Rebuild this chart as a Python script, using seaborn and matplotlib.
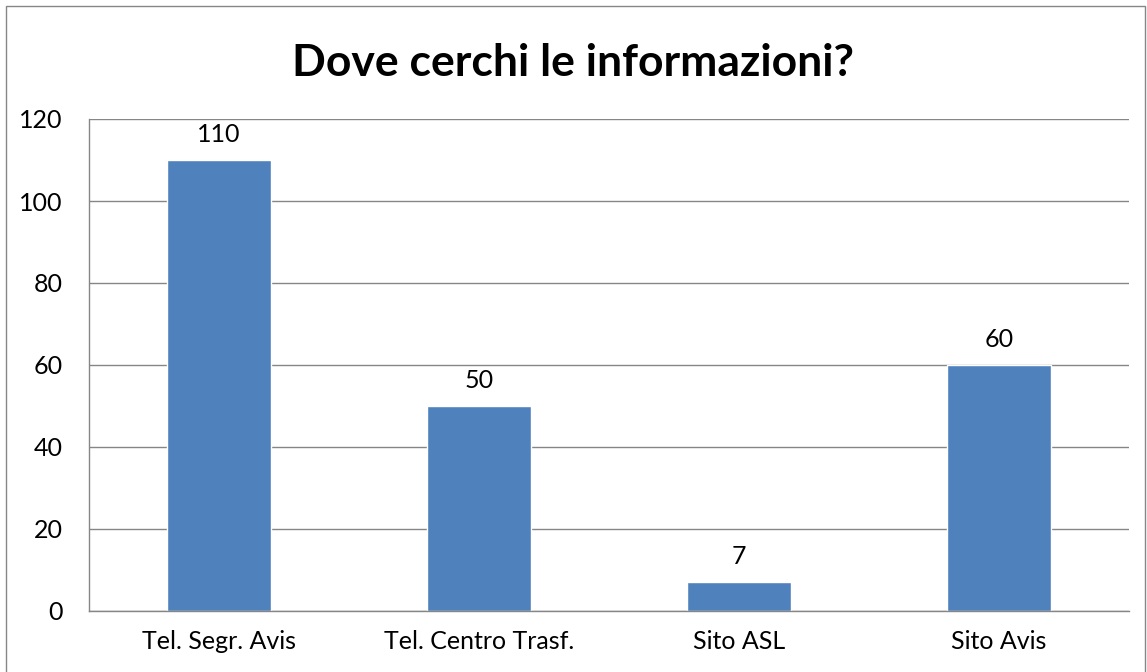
import seaborn as sns
import matplotlib.pyplot as plt
import pandas as pd
import numpy as np
from matplotlib.patches import Rectangle

categories = ['Tel. Segr. Avis', 'Tel. Centro Trasf.', 'Sito ASL', 'Sito Avis']
values = [110, 50, 7, 60]
title = 'Dove cerchi le informazioni?'

df = pd.DataFrame({'fonte': categories, 'risposte': values})

sns.set_style('white')
plt.rcParams['font.family'] = ['Lato', 'DejaVu Sans']
plt.rcParams['text.color'] = 'black'

fig = plt.figure(figsize=(11.47, 6.72), dpi=100)
ax = fig.add_axes([89 / 1147, 1 - 611 / 672, 1040 / 1147, 492 / 672])

sns.barplot(data=df, x='fonte', y='risposte', color='#4F81BD', saturation=1,
            width=0.4, ax=ax)
ax.bar_label(ax.containers[0], fontsize=18, padding=10, color='black')

ax.set_ylim(0, 120)
ax.set_xlim(-0.5, 3.5)
ax.set_yticks(np.arange(0, 121, 20))
ax.yaxis.grid(True, color='#868686', linewidth=1)
ax.set_axisbelow(True)
ax.set_xlabel('')
ax.set_ylabel('')

ax.set_xticks(np.arange(-0.5, 4, 1), minor=True)
ax.tick_params(axis='x', which='major', length=0, labelsize=18, pad=14)
ax.tick_params(axis='x', which='minor', length=7, color='#868686', width=1)
ax.tick_params(axis='y', length=7, color='#868686', width=1, labelsize=18, pad=12)
ax.tick_params(axis='both', labelcolor='black')

for side in ['top', 'right']:
    ax.spines[side].set_visible(False)
for side in ['left', 'bottom']:
    ax.spines[side].set_color('#868686')
    ax.spines[side].set_linewidth(1)

fig.text(0.5, 1 - 63 / 672, title, ha='center', va='center', fontsize=32,
         fontweight='bold', color='black')

fig.patches.append(Rectangle((6 / 1147, -0.05), 1139 / 1147, 1 - 6 / 672 + 0.05,
                             transform=fig.transFigure, fill=False,
                             edgecolor='#868686', linewidth=1))

fig.savefig('out.png', dpi=100)
